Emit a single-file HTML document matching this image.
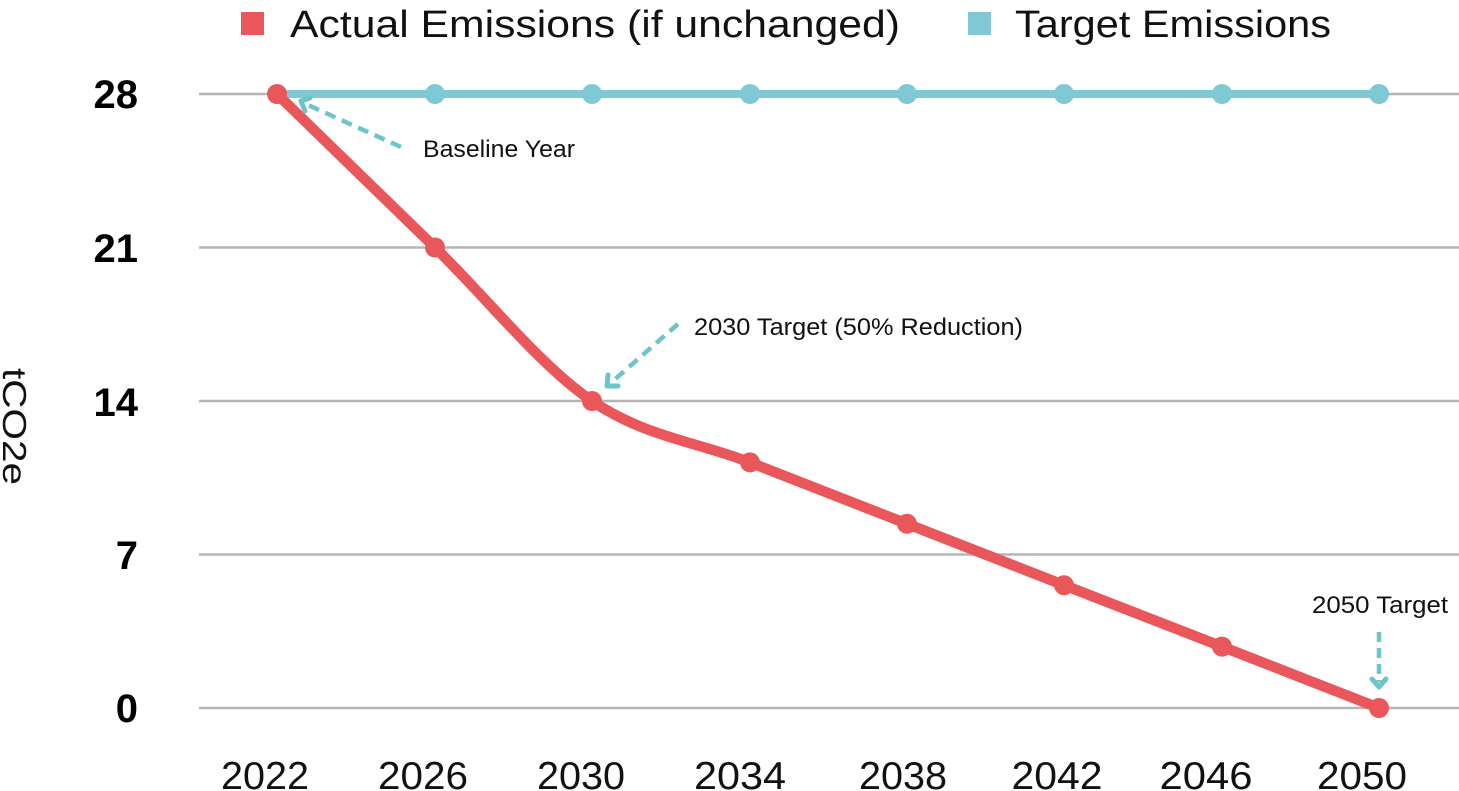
<!DOCTYPE html>
<html>
<head>
<meta charset="utf-8">
<style>
  html, body { margin:0; padding:0; background:#ffffff; }
  body { width:1459px; height:791px; overflow:hidden; }
  svg { display:block; }
  text { font-family: "Liberation Sans", sans-serif; }
</style>
</head>
<body>
<svg width="1459" height="791" viewBox="0 0 1459 791" xmlns="http://www.w3.org/2000/svg">
  <!-- Legend -->
  <rect x="241" y="12" width="23" height="23" fill="#E9575B"/>
  <text x="290" y="37" font-size="38" fill="#111" textLength="610" lengthAdjust="spacingAndGlyphs">Actual Emissions (if unchanged)</text>
  <rect x="968" y="12" width="23" height="23" fill="#7EC9D4"/>
  <text x="1015" y="37" font-size="38" fill="#111" textLength="316" lengthAdjust="spacingAndGlyphs">Target Emissions</text>

  <!-- Gridlines -->
  <g stroke="#b5b5b5" stroke-width="2.5">
    <line x1="199" y1="94" x2="1459" y2="94"/>
    <line x1="199" y1="247.5" x2="1459" y2="247.5"/>
    <line x1="199" y1="401" x2="1459" y2="401"/>
    <line x1="199" y1="554.5" x2="1459" y2="554.5"/>
    <line x1="199" y1="708" x2="1459" y2="708"/>
  </g>

  <!-- Y tick labels -->
  <g font-size="40" font-weight="bold" fill="#000" text-anchor="end">
    <text x="138" y="108">28</text>
    <text x="138" y="262">21</text>
    <text x="138" y="416">14</text>
    <text x="138" y="569">7</text>
    <text x="138" y="722">0</text>
  </g>

  <!-- Y axis title -->
  <text transform="translate(3,368) rotate(90)" font-size="33" fill="#111" textLength="117" lengthAdjust="spacingAndGlyphs">tCO2e</text>

  <!-- X tick labels -->
  <g font-size="39" fill="#111" text-anchor="middle">
    <text x="265" y="789" textLength="88" lengthAdjust="spacingAndGlyphs">2022</text>
    <text x="423" y="789" textLength="90" lengthAdjust="spacingAndGlyphs">2026</text>
    <text x="581" y="789" textLength="88" lengthAdjust="spacingAndGlyphs">2030</text>
    <text x="740" y="789" textLength="92" lengthAdjust="spacingAndGlyphs">2034</text>
    <text x="903" y="789" textLength="88" lengthAdjust="spacingAndGlyphs">2038</text>
    <text x="1057" y="789" textLength="91" lengthAdjust="spacingAndGlyphs">2042</text>
    <text x="1206" y="789" textLength="93" lengthAdjust="spacingAndGlyphs">2046</text>
    <text x="1362" y="789" textLength="90" lengthAdjust="spacingAndGlyphs">2050</text>
  </g>

  <!-- Target series -->
  <line x1="277" y1="94" x2="1379" y2="94" stroke="#7EC9D4" stroke-width="8"/>
  <g fill="#7EC9D4">
    <circle cx="435" cy="94" r="10"/>
    <circle cx="592" cy="94" r="10"/>
    <circle cx="750" cy="94" r="10"/>
    <circle cx="907" cy="94" r="10"/>
    <circle cx="1064" cy="94" r="10"/>
    <circle cx="1222" cy="94" r="10"/>
    <circle cx="1379" cy="94" r="10"/>
  </g>

  <!-- Actual series -->
  <path d="M277,94 L435,247.5 C487.5,298.7 539.5,365.2 592,401 C644.5,436.8 697.5,441.9 750,462.4 L907,523.8 L1064,585.2 L1222,646.6 L1379,708"
        fill="none" stroke="#E9575B" stroke-width="10.5" stroke-linejoin="round" stroke-linecap="round"/>
  <g fill="#E9575B">
    <circle cx="277" cy="94" r="10"/>
    <circle cx="435" cy="247.5" r="10"/>
    <circle cx="592" cy="401" r="10"/>
    <circle cx="750" cy="462.4" r="10"/>
    <circle cx="907" cy="523.8" r="10"/>
    <circle cx="1064" cy="585.2" r="10"/>
    <circle cx="1222" cy="646.6" r="10"/>
    <circle cx="1379" cy="708" r="10"/>
  </g>

  <!-- Annotations -->
  <g stroke="#6DC4C9" fill="none" stroke-width="4.5">
    <line x1="401" y1="147" x2="308" y2="105" stroke-dasharray="11 7"/>
    <polyline points="305,111 301,101 310,98" stroke-width="5" stroke-linecap="round" stroke-linejoin="round"/>
    <line x1="678" y1="324" x2="613" y2="381" stroke-dasharray="11 7"/>
    <polyline points="608,375 607,386 618,386" stroke-width="5" stroke-linecap="round" stroke-linejoin="round"/>
    <line x1="1379" y1="632" x2="1379" y2="682" stroke-dasharray="10 6"/>
    <polyline points="1372,679 1379,687 1386,679" stroke-width="5" stroke-linecap="round" stroke-linejoin="round"/>
  </g>
  <g font-size="24" fill="#111">
    <text x="423" y="157" textLength="152" lengthAdjust="spacingAndGlyphs">Baseline Year</text>
    <text x="694" y="335" textLength="329" lengthAdjust="spacingAndGlyphs">2030 Target (50% Reduction)</text>
    <text x="1312" y="613" textLength="136" lengthAdjust="spacingAndGlyphs">2050 Target</text>
  </g>
</svg>
</body>
</html>
